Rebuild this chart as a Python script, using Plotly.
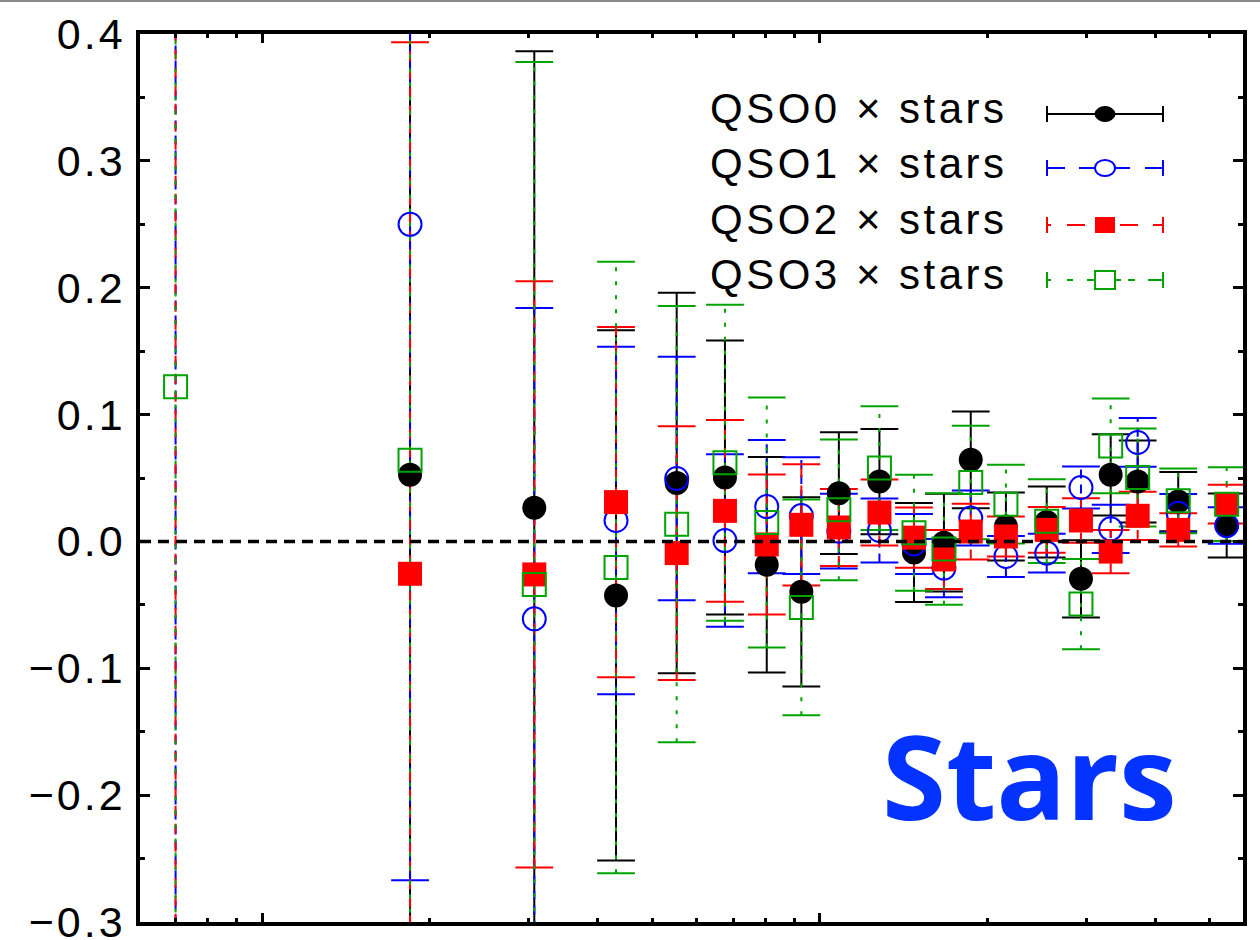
import math
import plotly.graph_objects as go

# ---------------- data ----------------
x_bins = [0.700, 1.842, 3.076, 4.31, 5.536, 6.756, 8.028, 9.26, 10.81, 12.78,
          14.74, 16.68, 18.63, 21.54, 25.49, 29.36, 33.19, 37.1, 43.86, 53.57]

qso0_vals = [None, 0.0525, 0.0265, -0.0426, 0.046, 0.0504, -0.0184, -0.0397, 0.038, 0.0472,
             -0.0087, -0.001, 0.0643, 0.0118, 0.0153, -0.0295, 0.0525, 0.0472, 0.0314, 0.0125]
qso0_errs = [None, 0.50, 0.360, 0.209, 0.150, 0.108, 0.085, 0.0746, 0.048, 0.0415,
             0.039, 0.0385, 0.0381, 0.0268, 0.028, 0.0305, 0.032, 0.0323, 0.0234, 0.0252]

qso1_vals = [-0.45, 0.250, -0.061, 0.0165, 0.0496, 0.0007, 0.0275, 0.0204, 0.0081, 0.0086,
             -0.002, -0.021, 0.0184, -0.0119, -0.0092, 0.0425, 0.0099, 0.078, 0.0223, 0.0125]
qso1_errs = [1.2, 0.517, 0.245, 0.137, 0.096, 0.068, 0.0525, 0.046, 0.0294, 0.0252,
             0.0237, 0.023, 0.0217, 0.0162, 0.0153, 0.0165, 0.019, 0.0192, 0.015, 0.0144]

qso2_vals = [0.5, -0.0255, -0.026, 0.031, -0.0092, 0.0241, -0.0024, 0.0131, 0.011, 0.0228,
             0.003, -0.0142, 0.0078, 0.0039, 0.0091, 0.0165, -0.008, 0.0202, 0.0091, 0.0294]
qso2_errs = [1.0, 0.419, 0.231, 0.138, 0.100, 0.0717, 0.0552, 0.0478, 0.0303, 0.026,
             0.0238, 0.0233, 0.022, 0.0157, 0.018, 0.0176, 0.017, 0.019, 0.0131, 0.0152]

qso3_vals = [0.122, 0.064, -0.034, -0.0206, 0.0136, 0.062, 0.0149, -0.052, 0.0249, 0.0578,
             0.0068, -0.006, 0.0464, 0.0294, 0.016, -0.0494, 0.0753, 0.0504, 0.032, 0.0294]
qso3_errs = [0.9, 0.5, 0.412, 0.241, 0.172, 0.1245, 0.0986, 0.085, 0.0555, 0.0488,
             0.0457, 0.044, 0.0447, 0.031, 0.033, 0.0356, 0.0373, 0.0387, 0.0255, 0.029]

series_names = ["QSO0 \u00d7 stars", "QSO1 \u00d7 stars", "QSO2 \u00d7 stars", "QSO3 \u00d7 stars"]

y_range = [-0.3, 0.4]
y_ticks = [-0.3, -0.2, -0.1, 0.0, 0.1, 0.2, 0.3, 0.4]
y_tick_labels = ["\u22120.3", "\u22120.2", "\u22120.1", "0.0", "0.1", "0.2", "0.3", "0.4"]
x_major_ticks = [1, 10]
x_minor_ticks = [0.7, 0.8, 0.9, 2, 3, 4, 5, 6, 7, 8, 9, 20, 30, 40, 50]
panel_label = "Stars"

# ---------------- styles ----------------
BLACK, BLUE, RED, GREEN = "#000000", "#0000ff", "#ff0000", "#00a300"
styles = [
    dict(color=BLACK, dash="solid", symbol="circle", filled=True),
    dict(color=BLUE, dash="9px,6px", symbol="circle-open", filled=False),
    dict(color=RED, dash="10px,8px", symbol="square", filled=True),
    dict(color=GREEN, dash="4px,10px", symbol="square-open", filled=False),
]
all_vals = [qso0_vals, qso1_vals, qso2_vals, qso3_vals]
all_errs = [qso0_errs, qso1_errs, qso2_errs, qso3_errs]
FONT = "Liberation Sans, Arial, sans-serif"

fig = go.Figure()

# error-bar stems and caps first
for vals, errs, st in zip(all_vals, all_errs, styles):
    sx, sy, cx, cy = [], [], [], []
    for xv, v, e in zip(x_bins, vals, errs):
        if v is None:
            continue
        sx += [xv, xv, None]
        sy += [v - e, v + e, None]
        cx += [xv, xv]
        cy += [v - e, v + e]
    fig.add_trace(go.Scatter(x=sx, y=sy, mode="lines", showlegend=False, hoverinfo="skip",
                             line=dict(color=st["color"], width=2, dash=st["dash"])))
    fig.add_trace(go.Scatter(x=cx, y=cy, mode="markers", showlegend=False, hoverinfo="skip",
                             marker=dict(symbol="line-ew", size=27,
                                         line=dict(color=st["color"], width=2))))

# points
for vals, name, st in zip(all_vals, series_names, styles):
    px_ = [xv for xv, v in zip(x_bins, vals) if v is not None]
    py_ = [v for v in vals if v is not None]
    if st["filled"]:
        mk = dict(symbol=st["symbol"], size=24, color=st["color"], line=dict(width=0))
    else:
        mk = dict(symbol=st["symbol"], size=23, color=st["color"],
                  line=dict(color=st["color"], width=2))
    fig.add_trace(go.Scatter(x=px_, y=py_, mode="markers", name=name,
                             showlegend=False, marker=mk))

# ---------------- layout helpers ----------------
L, R, T, B = 140, 1243, 34, 922


def pxx(x):
    return (x - L) / (R - L)


def pxy(y):
    return (B - y) / (B - T)


shapes = []
# dashed zero line
shapes.append(dict(type="line", xref="paper", yref="y", x0=0, x1=1, y0=0, y1=0,
                   line=dict(color="black", width=3.5, dash="11px,7px"), layer="above"))
# thin grey line at very top of the image
shapes.append(dict(type="line", xref="paper", yref="paper", x0=pxx(0), x1=pxx(1260),
                   y0=pxy(1), y1=pxy(1), line=dict(color="#8a8a8a", width=2)))

# custom legend (samples drawn as shapes)
row_y = [114, 168, 225, 280]
text_y = [109, 164, 220, 274]
seg_defs = [
    [(1047, 1163)],
    [(1047, 1065), (1079, 1130), (1145, 1163)],
    [(1047, 1051), (1067, 1085), (1095, 1115), (1120, 1138), (1153, 1163)],
    [(1047, 1051), (1067, 1073), (1087, 1095), (1115, 1121), (1128, 1135), (1148, 1163)],
]
annotations = []
for i, (ry, ty, segs, st, name) in enumerate(zip(row_y, text_y, seg_defs, styles, series_names)):
    for a, b in segs:
        shapes.append(dict(type="line", xref="paper", yref="paper",
                           x0=pxx(a), x1=pxx(b), y0=pxy(ry), y1=pxy(ry),
                           line=dict(color=st["color"], width=2)))
    for cxp in (1047, 1163):
        shapes.append(dict(type="line", xref="paper", yref="paper",
                           x0=pxx(cxp), x1=pxx(cxp), y0=pxy(ry - 8), y1=pxy(ry + 8),
                           line=dict(color=st["color"], width=2)))
    hw, hh = 10, 8
    if i == 0:
        shapes.append(dict(type="circle", xref="paper", yref="paper",
                           x0=pxx(1105 - hw), x1=pxx(1105 + hw), y0=pxy(ry + 7.5), y1=pxy(ry - 7.5),
                           fillcolor=st["color"], line=dict(color=st["color"], width=1)))
    elif i == 1:
        shapes.append(dict(type="circle", xref="paper", yref="paper",
                           x0=pxx(1105 - hw), x1=pxx(1105 + hw), y0=pxy(ry + hh), y1=pxy(ry - hh),
                           fillcolor="white", line=dict(color=st["color"], width=2)))
    elif i == 2:
        shapes.append(dict(type="rect", xref="paper", yref="paper",
                           x0=pxx(1105 - hw), x1=pxx(1105 + hw), y0=pxy(ry + hh), y1=pxy(ry - hh),
                           fillcolor=st["color"], line=dict(color=st["color"], width=0)))
    else:
        shapes.append(dict(type="rect", xref="paper", yref="paper",
                           x0=pxx(1105 - hw), x1=pxx(1105 + hw), y0=pxy(ry + 9), y1=pxy(ry - 9),
                           fillcolor="white", line=dict(color=st["color"], width=2)))
    annotations.append(dict(xref="paper", yref="paper", x=pxx(1010), y=pxy(ty),
                            xanchor="right", yanchor="middle", showarrow=False,
                            text='<span style="letter-spacing:3.5px">%s</span>' % name,
                            font=dict(family=FONT, size=42, color="black")))

annotations.append(dict(xref="paper", yref="paper", x=pxx(1029), y=pxy(775),
                        xanchor="center", yanchor="middle", showarrow=False,
                        text="<b>%s</b>" % panel_label,
                        font=dict(family="Open Sans, sans-serif", size=116, color="#0433ff")))

axis_common = dict(showline=True, linewidth=3.5, linecolor="black", mirror="allticks",
                   ticks="inside", tickwidth=3, tickcolor="black", showgrid=False,
                   zeroline=False, automargin=False)

fig.update_layout(
    width=1260, height=940,
    margin=dict(l=L, r=1260 - R, t=T, b=940 - B, pad=0, autoexpand=False),
    paper_bgcolor="white", plot_bgcolor="white",
    showlegend=False,
    shapes=shapes,
    annotations=annotations,
    xaxis=dict(type="log", range=[math.log10(0.6044), math.log10(57.3)],
               tickvals=x_major_ticks, ticklen=9, showticklabels=False,
               minor=dict(ticks="inside", ticklen=4, tickwidth=3, tickcolor="black",
                          tickvals=x_minor_ticks, showgrid=False),
               **axis_common),
    yaxis=dict(range=y_range, tickmode="array", tickvals=y_ticks,
               ticktext=['<span style="letter-spacing:3px">%s</span>' % t for t in y_tick_labels],
               ticklen=10,
               tickfont=dict(family=FONT, size=43, color="black"),
               ticklabelstandoff=2, ticklabeloverflow="allow",
               minor=dict(ticks="inside", ticklen=5, tickwidth=3, tickcolor="black",
                          tickmode="linear", tick0=0, dtick=0.05, showgrid=False),
               **axis_common),
)

fig.write_html("out.html")
